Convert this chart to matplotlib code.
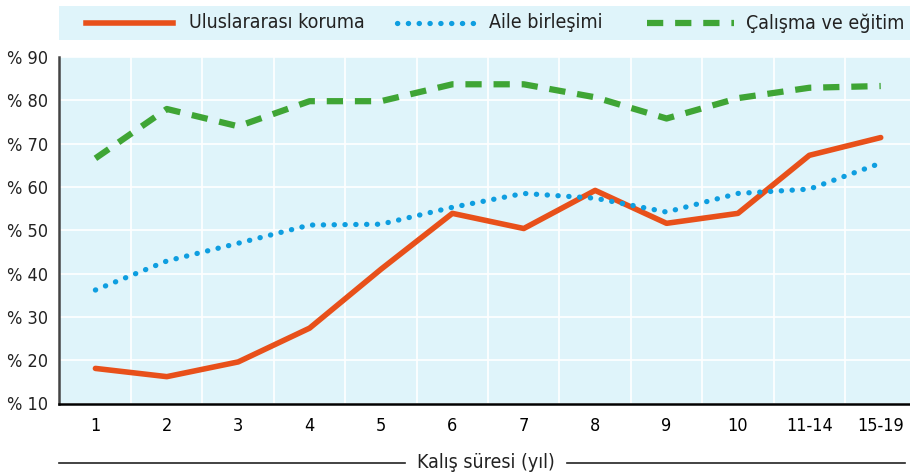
import numpy as np
import matplotlib.pyplot as plt
from matplotlib.lines import Line2D

plt.rcParams['font.family'] = ['DejaVu Sans']
plt.rcParams['font.stretch'] = 'condensed'

# data
categories = ['1', '2', '3', '4', '5', '6', '7', '8', '9', '10', '11-14', '15-19']
koruma = [18.1, 16.2, 19.6, 27.4, 41.0, 53.9, 50.4, 59.2, 51.6, 53.9, 67.3, 71.4]
aile = [36.2, 42.9, 47.0, 51.2, 51.4, 55.3, 58.5, 57.4, 54.2, 58.5, 59.5, 65.5]
calisma = [66.6, 78.0, 74.0, 79.8, 79.8, 83.7, 83.7, 80.7, 75.8, 80.5, 82.9, 83.3]
yticks = [10, 20, 30, 40, 50, 60, 70, 80, 90]
labels = ['Uluslararası koruma', 'Aile birleşimi', 'Çalışma ve eğitim']

c_or = '#E8501A'
c_bl = '#0E9EE0'
c_gr = '#3FA535'
bg = '#DFF4FA'

W, H = 910, 476
fig = plt.figure(figsize=(9.1, 4.76), dpi=100)
ax = fig.add_axes([59 / W, 1 - 403.5 / H, 1 - 59 / W, (403.5 - 57) / H])
ax.set_facecolor(bg)

x = np.arange(len(categories))
ax.plot(x, koruma, color=c_or, lw=4, solid_capstyle='round', zorder=3)
ax.plot(x, aile, color=c_bl, lw=3.8, linestyle=(0, (0.05, 2.0)),
        dash_capstyle='round', zorder=3)
ax.plot(x, calisma, color=c_gr, lw=4.5, linestyle=(0, (2.6, 1.9)), zorder=3)

ax.set_xlim(-0.51, 11.41)
ax.set_ylim(10, 90)
ax.set_xticks(x)
ax.set_xticklabels(categories, fontsize=13)
ax.set_yticks(yticks)
ax.set_yticklabels(['% ' + str(v) for v in yticks], fontsize=13, color='#222222')
ax.set_xticks(x[:-1] + 0.5, minor=True)
ax.tick_params(which='both', length=0)
ax.tick_params(axis='x', pad=10)
ax.tick_params(axis='y', pad=8)
ax.grid(which='minor', axis='x', color='white', lw=1.2)
ax.grid(which='major', axis='y', color='white', lw=1.2)
ax.set_axisbelow(True)
for s in ['top', 'right']:
    ax.spines[s].set_visible(False)
ax.spines['left'].set_color('#444444')
ax.spines['left'].set_linewidth(1.8)
ax.spines['bottom'].set_color('black')
ax.spines['bottom'].set_linewidth(1.8)

# x axis title with rules on both sides
fig.text(486 / W, 1 - 462 / H, 'Kalış süresi (yıl)', ha='center', va='center',
         fontsize=14, color='#222222')
fig.add_artist(Line2D([59 / W, 405 / W], [1 - 463 / H] * 2, color='#222222', lw=1.2))
fig.add_artist(Line2D([567 / W, 905 / W], [1 - 463 / H] * 2, color='#222222', lw=1.2))

# legend band
lax = fig.add_axes([59 / W, 1 - 40 / H, 1 - 59 / W, 34 / H])
lax.set_xlim(59, 910)
lax.set_ylim(0, 1)
lax.axis('off')
lax.add_patch(plt.Rectangle((59, 0), 851, 1, color=bg, zorder=0))
ly = 0.5
lax.plot([86, 173], [ly, ly], color=c_or, lw=4)
lax.text(189, ly, labels[0], va='center', fontsize=14, color='#222222')
lax.plot([397, 480], [ly, ly], color=c_bl, lw=3.8, linestyle=(0, (0.05, 2.0)),
         dash_capstyle='round')
lax.text(489, ly, labels[1], va='center', fontsize=14, color='#222222')
lax.plot([647, 734], [ly, ly], color=c_gr, lw=4.5, linestyle=(0, (2.6, 1.9)))
lax.text(746, ly, labels[2], va='center', fontsize=14, color='#222222')

fig.savefig('out.png', dpi=100)
